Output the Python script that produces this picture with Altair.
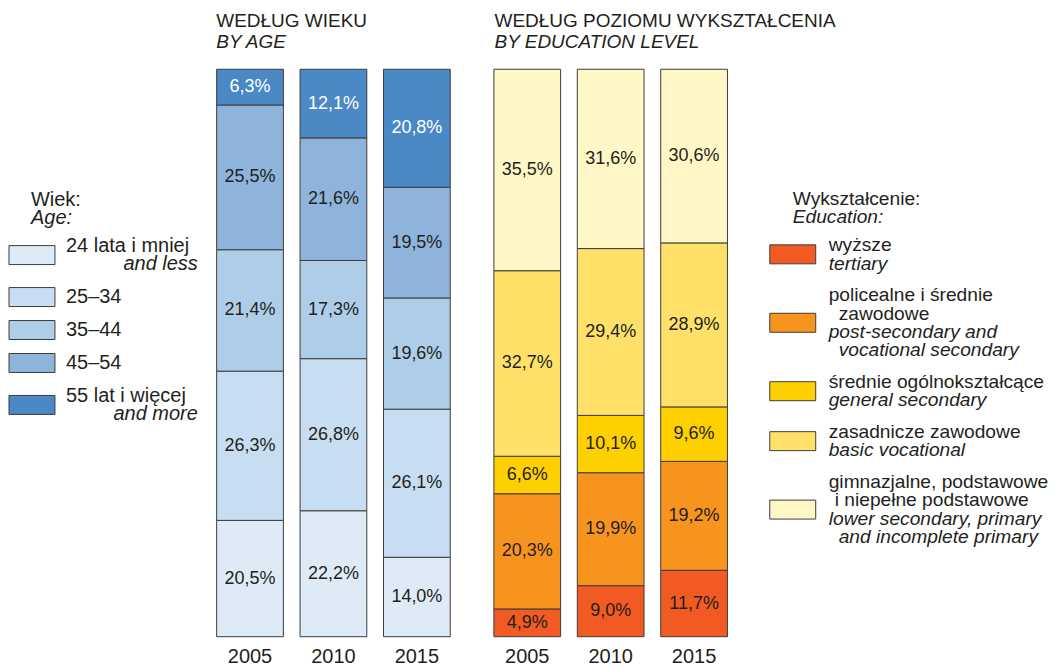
import altair as alt
import pandas as pd

F = "Liberation Sans"
C = "#231f20"
STROKE = "#3c3c3c"

years = ["2005", "2010", "2015"]

# ---- by age ----
age_keys = ["24-", "25-34", "35-44", "45-54", "55+"]
age_pl = ["24 lata i mniej", "25–34", "35–44", "45–54", "55 lat i więcej"]
age_en = ["and less", "", "", "", "and more"]
age_colors = ["#deebf7", "#c7ddf1", "#aecde9", "#8fb4dc", "#4a88c6"]
age_2005 = [20.5, 26.3, 21.4, 25.5, 6.3]
age_2010 = [22.2, 26.8, 17.3, 21.6, 12.1]
age_2015 = [14.0, 26.1, 19.6, 19.5, 20.8]

# ---- by education ----
edu_keys = ["tertiary", "postsec", "gensec", "basicvoc", "lower"]
edu_pl = [["wyższe"],
          ["policealne i średnie", "zawodowe"],
          ["średnie ogólnokształcące"],
          ["zasadnicze zawodowe"],
          ["gimnazjalne, podstawowe", "i niepełne podstawowe"]]
edu_pl_indent = [[0], [0, 10], [0], [0], [0, 6]]
edu_en = [["tertiary"],
          ["post-secondary and", "vocational secondary"],
          ["general secondary"],
          ["basic vocational"],
          ["lower secondary, primary", "and incomplete primary"]]
edu_en_indent = [[0], [0, 10], [0], [0], [0, 10]]
edu_colors = ["#f15a22", "#f7941d", "#ffd000", "#ffe169", "#fff8c6"]
edu_2005 = [4.9, 20.3, 6.6, 32.7, 35.5]
edu_2010 = [9.0, 19.9, 10.1, 29.4, 31.6]
edu_2015 = [11.7, 19.2, 9.6, 28.9, 30.6]


def fmt(v):
    return f"{v:.1f}".replace(".", ",") + "%"


def make_df(keys, series):
    rows = []
    for yr, vals in zip(years, series):
        for i, (k, v) in enumerate(zip(keys, vals)):
            rows.append(dict(year=yr, cat=k, idx=i, value=v, label=fmt(v)))
    return pd.DataFrame(rows)


BAR_W = 250.5
BAR_H = 568
SPACING = 26.5


def bar_panel(df, keys, colors, title, subtitle, white_idx, dx):
    base = alt.Chart(df)
    xenc = alt.X("year:N", sort=years, title=None,
                 scale=alt.Scale(paddingInner=0.2, paddingOuter=0.1),
                 axis=alt.Axis(labelAngle=0, domain=False, ticks=False,
                               labelFontSize=20, labelFont=F, labelColor=C,
                               labelPadding=10, grid=False))
    yscale = alt.Scale(domain=[0, 100], nice=False, zero=True)
    cscale = alt.Scale(domain=keys, range=colors)
    bars = base.mark_bar(stroke=STROKE, strokeWidth=1).encode(
        x=xenc,
        y=alt.Y("value:Q", stack="zero", scale=yscale, axis=None),
        color=alt.Color("cat:N", scale=cscale, legend=None),
        order=alt.Order("idx:Q", sort="ascending"),
    )
    labels = base.transform_stack(
        stack="value", groupby=["year"],
        sort=[alt.SortField("idx", order="ascending")], as_=["y0", "y1"]
    ).transform_calculate(mid="(datum.y0 + datum.y1) / 2").mark_text(
        font=F, fontSize=18, baseline="middle"
    ).encode(
        x=alt.X("year:N", sort=years),
        y=alt.Y("mid:Q", scale=yscale, axis=None),
        text="label:N",
        color=alt.condition(f"datum.idx == {white_idx}", alt.value("white"), alt.value(C)),
    )
    return alt.layer(bars, labels).properties(
        width=BAR_W, height=BAR_H,
        title=alt.TitleParams(
            title, subtitle=subtitle, anchor="start", frame="group",
            font=F, fontSize=19, fontWeight="normal", color=C,
            subtitleFont=F, subtitleFontSize=19, subtitleFontStyle="italic",
            subtitleColor=C, subtitlePadding=2, offset=17, dx=dx,
        ),
    )


age_panel = bar_panel(make_df(age_keys, [age_2005, age_2010, age_2015]),
                      age_keys, age_colors, "WEDŁUG WIEKU", "BY AGE", 4, 8)
edu_panel = bar_panel(make_df(edu_keys, [edu_2005, edu_2010, edu_2015]),
                      edu_keys, edu_colors, "WEDŁUG POZIOMU WYKSZTAŁCENIA",
                      "BY EDUCATION LEVEL", -1, 9)

# ---- legends (layout in panel pixels) ----
TOP = 69


def legend_frames(keys, pl_lists, pl_ind, en_lists, en_ind, start, step, gap,
                  text_x, en_x):
    lines, rects = [], []
    n = 0
    for i, k in enumerate(keys):
        ys = []
        for t, ind in zip(pl_lists[i], pl_ind[i]):
            y = start + n * step + i * gap - TOP
            lines.append(dict(text=t, style="pl", y=y, x=text_x + ind))
            ys.append(y)
            n += 1
        for t, ind in zip(en_lists[i], en_ind[i]):
            y = start + n * step + i * gap - TOP
            lines.append(dict(text=t, style="en", y=y, x=en_x + ind))
            ys.append(y)
            n += 1
        yc = sum(ys) / len(ys)
        rects.append(dict(cat=k, y0=yc - 9.5, y1=yc + 9.5))
    return pd.DataFrame(lines), pd.DataFrame(rects)


def header(text, italic, x, y, fs):
    return alt.Chart(pd.DataFrame({"t": [text]})).mark_text(
        align="left", baseline="middle", font=F, fontSize=fs, color=C,
        fontStyle="italic" if italic else "normal"
    ).encode(x=alt.value(x), y=alt.value(y), text="t:N")


def legend_panel(keys, colors, pl_lists, pl_ind, en_lists, en_ind, start, step,
                 gap, rect_x, text_x, en_x, en_align, head_pl, head_en, head_x,
                 head_y, width, fs):
    lines, rects = legend_frames(keys, pl_lists, pl_ind, en_lists, en_ind,
                                 start, step, gap, text_x, en_x)
    rect = alt.Chart(rects).mark_rect(stroke=STROKE, strokeWidth=1).encode(
        x=alt.value(rect_x), x2=alt.value(rect_x + 46),
        y=alt.Y("y0:Q", scale=None, axis=None), y2="y1:Q",
        color=alt.Color("cat:N", scale=alt.Scale(domain=keys, range=colors), legend=None),
    )
    pl = alt.Chart(lines).transform_filter("datum.style == 'pl'").mark_text(
        align="left", baseline="middle", font=F, fontSize=fs, color=C
    ).encode(x=alt.X("x:Q", scale=None, axis=None),
             y=alt.Y("y:Q", scale=None, axis=None), text="text:N")
    en = alt.Chart(lines).transform_filter("datum.style == 'en'").mark_text(
        align=en_align, baseline="middle", font=F, fontSize=fs, color=C,
        fontStyle="italic"
    ).encode(x=alt.X("x:Q", scale=None, axis=None),
             y=alt.Y("y:Q", scale=None, axis=None), text="text:N")
    return alt.layer(
        header(head_pl, False, head_x, head_y - TOP, fs),
        header(head_en, True, head_x, head_y + 18 - TOP, fs),
        rect, pl, en,
    ).properties(width=width, height=BAR_H)


left_pl = [[t] for t in age_pl]
left_pl_ind = [[0] for _ in age_pl]
left_en = [[t] if t else [] for t in age_en]
left_en_ind = [[0] if t else [] for t in age_en]
left_legend = legend_panel(age_keys, age_colors, left_pl, left_pl_ind,
                           left_en, left_en_ind,
                           246, 18, 15, 0, 57, 189, "right",
                           "Wiek:", "Age:", 22, 200, 172.25, 20)
right_legend = legend_panel(edu_keys, edu_colors, edu_pl, edu_pl_indent,
                            edu_en, edu_en_indent,
                            245, 18.5, 13, 7, 66, 66, "left",
                            "Wykształcenie:", "Education:", 30, 198.5, 260, 19.2)

chart = alt.hconcat(
    left_legend, age_panel, edu_panel, right_legend,
    spacing=SPACING, bounds="flush",
).resolve_scale(
    x="independent", y="independent", color="independent"
).properties(
    padding={"left": 0, "top": 3, "right": 0, "bottom": 0}
).configure_view(stroke=None)

chart.save("out.html", embed_options={"renderer": "svg", "actions": False})
